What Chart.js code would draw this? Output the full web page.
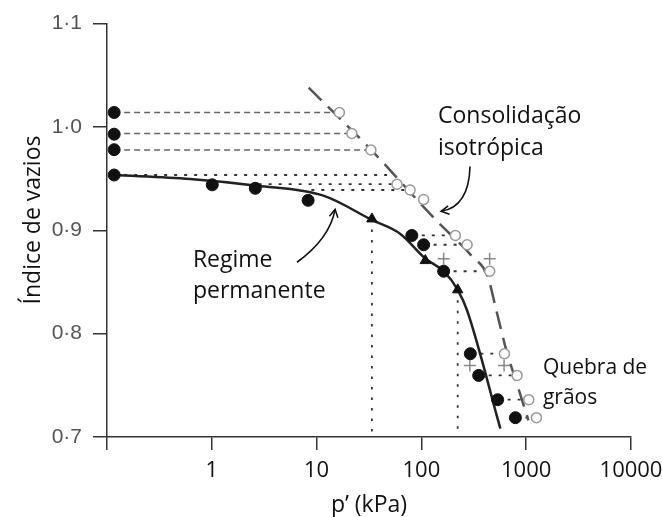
<!DOCTYPE html>
<html>
<head>
<meta charset="utf-8">
<script src="https://cdn.jsdelivr.net/npm/chart.js@4.4.1/dist/chart.umd.min.js"></script>
<style>
  html, body { margin: 0; padding: 0; background: #fff; }
  #chart { display: block; }
</style>
</head>
<body>
<canvas id="chart" width="662" height="517"></canvas>
<script>
// Void ratio against mean effective stress p' (log scale)

const xTicks = [0.1, 1, 10, 100, 1000, 10000];
const yTicks = [0.7, 0.8, 0.9, 1.0, 1.1];

// initial states of the isotropic samples, plotted at the left edge
const startP = [0.117, 0.117, 0.117, 0.117];
const startE = [1.014, 0.993, 0.978, 0.9535];

// steady-state end points (filled circles)
const ssP = [1.01, 2.6, 8.3, 81, 105, 163, 293, 352, 534, 789];
const ssE = [0.944, 0.9406, 0.929, 0.895, 0.886, 0.8604, 0.7806, 0.7596, 0.7361, 0.7187];

// steady-state points, filled triangles
const triP = [33.7, 109, 222];
const triE = [0.911, 0.8707, 0.8424];

// states after isotropic consolidation (open circles)
const isoP = [16.5, 21.7, 33, 58.5, 78, 105, 211, 273, 448, 620, 818, 1057, 1252];
const isoE = [1.014, 0.9937, 0.9777, 0.9446, 0.939, 0.9297, 0.895, 0.886, 0.8604, 0.7806, 0.7596, 0.7361, 0.7187];

// crosses
const crossP = [163, 448, 290, 615];
const crossE = [0.8724, 0.8724, 0.7693, 0.7693];

// steady-state line (solid)
const cslP = [0.117, 0.62, 2.69, 11.6, 33.7, 63, 109, 163, 222, 273, 567];
const cslE = [0.9535, 0.9497, 0.9432, 0.9335, 0.910, 0.8965, 0.8727, 0.8604, 0.8424, 0.8224, 0.7081];

// isotropic consolidation line (long dashes)
const nclP = [8.4, 33, 139, 306, 426, 519, 647, 824, 1049];
const nclE = [1.038, 0.978, 0.9094, 0.8746, 0.8562, 0.8224, 0.7838, 0.750, 0.7162];

// dashed links from the initial states to the consolidated states
const dashE = [1.014, 0.9937, 0.9777];
const dashToP = [16.5, 21.7, 33];

// dotted links between steady state and consolidated state
const dotFromP = [0.117, 2.8, 8.9, 81, 105, 163, 293, 352, 534, 789];
const dotToP = [52.7, 58.5, 78, 211, 273, 448, 620, 818, 1057, 1252];
const dotE = [0.9535, 0.9446, 0.939, 0.895, 0.886, 0.8604, 0.7806, 0.7596, 0.7361, 0.7187];

// vertical dotted drops to the p' axis
const dropP = [33.7, 222];
const dropE = [0.911, 0.8424];

// annotation text, anchored in data units (left edge, baseline)
const notes = [
  { text: 'Consolidação', p: 144, e: 1.0034, size: 23 },
  { text: 'isotrópica', p: 144, e: 0.9731, size: 23 },
  { text: 'Regime', p: 0.66, e: 0.8645, size: 23 },
  { text: 'permanente', p: 0.66, e: 0.8346, size: 23 },
  { text: 'Quebra de', p: 1445, e: 0.7609, size: 21 },
  { text: 'grãos', p: 1445, e: 0.7319, size: 21 }
];

// curved arrows: start, control, tip
const arrows = [
  [[291, 0.9618], [284, 0.9227], [154, 0.9184]],
  [[6.5, 0.8691], [13.4, 0.8923], [15.0, 0.9203]]
];

const pts = (xs, ys) => xs.map((x, i) => ({ x: x, y: ys[i] }));

const datasets = [];

// markers first so they sit on top of the lines
datasets.push({ data: pts(startP, startE), pointStyle: 'circle', pointRadius: 6,
  backgroundColor: '#111', borderColor: '#111', order: 0 });
datasets.push({ data: pts(ssP, ssE), pointStyle: 'circle', pointRadius: 6,
  backgroundColor: '#111', borderColor: '#111', order: 0 });
datasets.push({ data: pts(triP, triE), pointStyle: 'triangle', pointRadius: 6,
  backgroundColor: '#111', borderColor: '#111', order: 0 });
datasets.push({ data: pts(isoP, isoE), pointStyle: 'circle', pointRadius: 5,
  backgroundColor: '#fff', borderColor: '#999', borderWidth: 1.5, order: 0 });
datasets.push({ data: pts(crossP, crossE), pointStyle: 'cross', pointRadius: 6,
  borderColor: '#888', borderWidth: 1.5, order: 0 });

datasets.push({ data: pts(cslP, cslE), showLine: true, pointRadius: 0,
  borderColor: '#222', borderWidth: 2.5, cubicInterpolationMode: 'monotone', order: 1 });
datasets.push({ data: pts(nclP, nclE), showLine: true, pointRadius: 0,
  borderColor: '#555', borderWidth: 2.5, borderDash: [18, 9], cubicInterpolationMode: 'monotone', order: 1 });

dashE.forEach((e, i) => {
  datasets.push({ data: pts([startP[0], dashToP[i]], [e, e]), showLine: true, pointRadius: 0,
    borderColor: '#666', borderWidth: 1.5, borderDash: [6, 4], order: 2 });
});
dotE.forEach((e, i) => {
  datasets.push({ data: pts([dotFromP[i], dotToP[i]], [e, e]), showLine: true, pointRadius: 0,
    borderColor: '#333', borderWidth: 1.8, borderDash: [3, 7], order: 2 });
});
dropP.forEach((p, i) => {
  datasets.push({ data: pts([p, p], [dropE[i], 0.7]), showLine: true, pointRadius: 0,
    borderColor: '#333', borderWidth: 1.8, borderDash: [2.5, 8], order: 2 });
});

// y title, text notes and arrows
const notesPlugin = {
  id: 'notes',
  afterDatasetsDraw(chart) {
    const ctx = chart.ctx;
    const xs = chart.scales.x, ys = chart.scales.y;
    const px = (p, e) => ({ x: xs.getPixelForValue(p), y: ys.getPixelForValue(e) });
    ctx.save();
    ctx.fillStyle = '#111';
    ctx.textBaseline = 'alphabetic';
    ctx.textAlign = 'left';
    notes.forEach(n => {
      const q = px(n.p, n.e);
      ctx.font = n.size + 'px "Open Sans"';
      ctx.fillText(n.text, q.x, q.y);
    });

    ctx.strokeStyle = '#111';
    ctx.lineWidth = 1.6;
    arrows.forEach(a => {
      const s = px(a[0][0], a[0][1]), c = px(a[1][0], a[1][1]), t = px(a[2][0], a[2][1]);
      ctx.beginPath();
      ctx.moveTo(s.x, s.y);
      ctx.quadraticCurveTo(c.x, c.y, t.x, t.y);
      ctx.stroke();
      const ang = Math.atan2(t.y - c.y, t.x - c.x);
      ctx.beginPath();
      ctx.moveTo(t.x - 9 * Math.cos(ang - 0.5), t.y - 9 * Math.sin(ang - 0.5));
      ctx.lineTo(t.x, t.y);
      ctx.lineTo(t.x - 9 * Math.cos(ang + 0.5), t.y - 9 * Math.sin(ang + 0.5));
      ctx.stroke();
    });

    // vertical axis title
    ctx.translate(40, 220);
    ctx.rotate(-Math.PI / 2);
    ctx.textAlign = 'center';
    ctx.font = '23px "Open Sans"';
    ctx.fillText('Índice de vazios', 0, 0);
    ctx.restore();
  }
};

new Chart(document.getElementById('chart'), {
  type: 'scatter',
  data: { datasets: datasets },
  options: {
    responsive: false,
    animation: false,
    layout: { padding: { top: 23, right: 31, left: 0, bottom: 0 } },
    plugins: { legend: { display: false }, tooltip: { enabled: false } },
    scales: {
      x: {
        type: 'logarithmic',
        min: 0.1,
        max: 10000,
        afterBuildTicks: s => { s.ticks = xTicks.map(v => ({ value: v })); },
        // keep the plot edge fixed; "10000" may run into the right margin
        afterFit: s => { s.height = 80; s.paddingLeft = 0; s.paddingRight = 0; },
        ticks: {
          autoSkip: false,
          maxRotation: 0,
          padding: 8,
          color: '#111',
          font: { family: '"Open Sans"', size: 22 },
          callback: v => (v === 0.1 ? '' : String(v))
        },
        grid: { drawOnChartArea: false, tickLength: 13, color: '#333', lineWidth: 1.5 },
        border: { color: '#333', width: 1.5 },
        title: {
          display: true,
          text: 'p’ (kPa)',
          color: '#111',
          font: { family: '"Open Sans"', size: 23, lineHeight: 1 },
          padding: 0
        }
      },
      y: {
        min: 0.7,
        max: 1.1,
        afterBuildTicks: s => { s.ticks = yTicks.map(v => ({ value: v })); },
        afterFit: s => { s.width = 107; },
        ticks: {
          padding: 11,
          color: '#555',
          font: { family: '"Liberation Sans", Arial', size: 21 },
          callback: v => v.toFixed(1).replace('.', '·')
        },
        grid: { drawOnChartArea: false, tickLength: 14, color: '#333', lineWidth: 1.5 },
        border: { color: '#333', width: 1.5 }
      }
    }
  },
  plugins: [notesPlugin]
});
</script>
</body>
</html>
